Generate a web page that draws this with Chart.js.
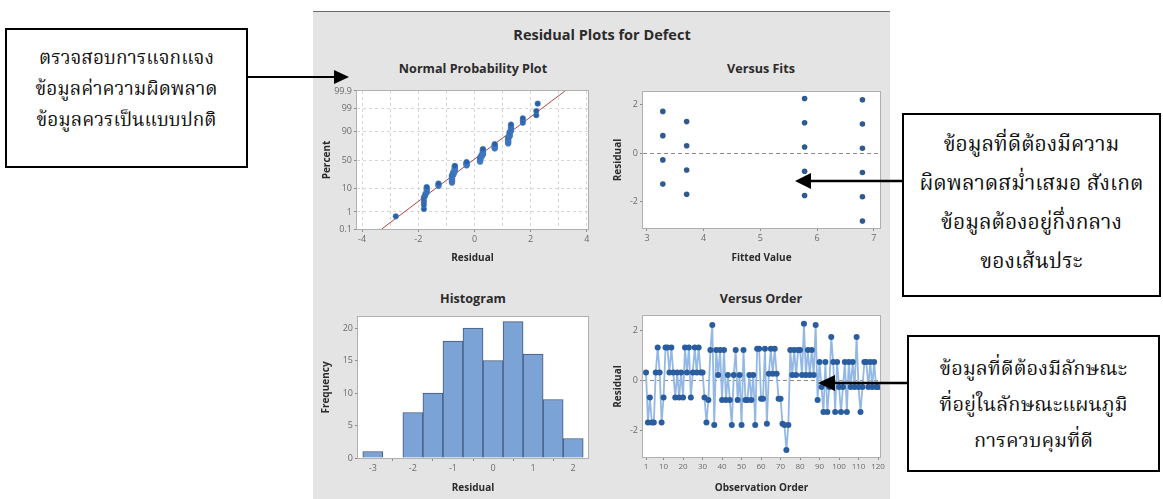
<!DOCTYPE html>
<html>
<head>
<meta charset="utf-8">
<script src="https://cdn.jsdelivr.net/npm/chart.js@4.4.1/dist/chart.umd.min.js"></script>
<style>
  body { margin: 0; width: 1163px; height: 499px; background: #fff; position: relative; overflow: hidden; font-family: "Open Sans", "Noto Sans", sans-serif; }
  #panel { position: absolute; left: 313px; top: 11px; width: 577px; height: 488px; background: #e4e4e4; border-top: 1px solid #6a6a6a; }
  .cv { position: absolute; }
  .ttl { position: absolute; font-weight: bold; color: #2b2b2b; white-space: nowrap; transform: translateX(-50%); }
  .box { position: absolute; box-sizing: border-box; border: 2px solid #000; background: #fff; text-align: center; color: #111;
         font-family: "Noto Serif Thai", "Noto Sans Thai Looped", "Noto Sans Thai", "Loma", "Garuda", serif; white-space: nowrap; }
  svg { position: absolute; left: 0; top: 0; }
</style>
</head>
<body>
<div id="panel"></div>

<div class="ttl" style="left:602px;top:25px;font-size:14.5px;line-height:19px">Residual Plots for Defect</div>
<div class="ttl" style="left:473px;top:60px;font-size:12.6px;line-height:17px">Normal Probability Plot</div>
<div class="ttl" style="left:761px;top:60px;font-size:12.6px;line-height:17px">Versus Fits</div>
<div class="ttl" style="left:473px;top:290px;font-size:12.6px;line-height:17px">Histogram</div>
<div class="ttl" style="left:761px;top:290px;font-size:12.6px;line-height:17px">Versus Order</div>

<canvas id="probChart" class="cv" width="290" height="190" style="left:313px;top:80px"></canvas>
<canvas id="fitsChart" class="cv" width="300" height="190" style="left:595px;top:80px"></canvas>
<canvas id="histChart" class="cv" width="290" height="194" style="left:313px;top:305px"></canvas>
<canvas id="orderChart" class="cv" width="300" height="194" style="left:595px;top:305px"></canvas>

<div class="box" style="left:5px;top:28px;width:243px;height:140px;padding-top:14px;font-size:19px;line-height:31px">
  ตรวจสอบการแจกแจง<br>ข้อมูลค่าความผิดพลาด<br>ข้อมูลควรเป็นแบบปกติ
</div>
<div class="box" style="left:902px;top:113px;width:259px;height:184px;padding-top:11px;font-size:21px;line-height:39px">
  ข้อมูลที่ดีต้องมีความ<br>ผิดพลาดสม่ำเสมอ สังเกต<br>ข้อมูลต้องอยู่กึ่งกลาง<br>ของเส้นประ
</div>
<div class="box" style="left:907px;top:335px;width:253px;height:137px;padding-top:15px;font-size:20px;line-height:36px">
  ข้อมูลที่ดีต้องมีลักษณะ<br>ที่อยู่ในลักษณะแผนภูมิ<br>การควบคุมที่ดี
</div>

<svg width="1163" height="499">
  <line x1="248" y1="77" x2="336" y2="77" stroke="#000" stroke-width="2"/>
  <polygon points="349,77 334,70 334,84" fill="#000"/>
  <line x1="902" y1="181" x2="808" y2="181" stroke="#000" stroke-width="2.5"/>
  <polygon points="795,181 811,173 811,189" fill="#000"/>
  <line x1="907" y1="383" x2="832" y2="383" stroke="#000" stroke-width="2.5"/>
  <polygon points="818,383 835,375 835,391" fill="#000"/>
</svg>

<script>
// ---- data ----
const probTickPct = [0.1, 1, 10, 50, 90, 99, 99.9];
const probTickLabels = ['0.1', '1', '10', '50', '90', '99', '99.9'];
const probXTicks = [-4, -3, -2, -1, 0, 1, 2, 3, 4];
const probClusterResid = [-2.8, -1.8, -1.75, -1.7, -1.28, -0.8, -0.75, -0.7, -0.28, 0.2, 0.25, 0.3, 0.72, 1.2, 1.25, 1.3, 1.72, 2.2, 2.25];
const probClusterPct = [
  [0.58],
  [1.41, 2.24, 3.07, 3.90, 4.73],
  [5.56, 6.40],
  [7.23, 8.06, 8.89, 9.72, 10.55, 11.38],
  [12.21, 13.04, 13.87, 14.70],
  [15.53, 16.36, 17.19, 18.02, 18.85, 19.68, 20.51, 21.35, 22.18, 23.01, 23.84, 24.67],
  [25.50, 26.33, 27.16, 27.99, 28.82, 29.65],
  [30.48, 31.31, 32.14, 32.97, 33.80, 34.63, 35.47, 36.30, 37.13, 37.96, 38.79, 39.62],
  [40.45, 41.28, 42.11, 42.94, 43.77, 44.60, 45.43, 46.26],
  [47.09, 47.92, 48.75, 49.58, 50.42, 51.25, 52.08, 52.91, 53.74, 54.57],
  [55.40, 56.23, 57.06, 57.89, 58.72],
  [59.55, 60.38, 61.21, 62.04, 62.87, 63.70, 64.53, 65.37, 66.20, 67.03, 67.86, 68.69],
  [69.52, 70.35, 71.18, 72.01, 72.84, 73.67, 74.50, 75.33, 76.16],
  [76.99, 77.82, 78.65, 79.49, 80.32, 81.15, 81.98, 82.81, 83.64, 84.47],
  [85.30, 86.13, 86.96, 87.79, 88.62, 89.45],
  [90.28, 91.11, 91.94, 92.77, 93.60, 94.44],
  [95.27, 96.10, 96.93],
  [97.76, 98.59],
  [99.42]
];
const fitLineResid = [-3.3, 3.22];
const fitLinePct = [0.1, 99.9];

const fitsValues = [3.28, 3.28, 3.28, 3.28, 3.7, 3.7, 3.7, 3.7, 5.78, 5.78, 5.78, 5.78, 5.78, 6.8, 6.8, 6.8, 6.8, 6.8, 6.8];
const fitsResid = [1.72, 0.72, -0.28, -1.28, 1.3, 0.3, -0.7, -1.7, 2.25, 1.25, 0.25, -0.75, -1.75, 2.2, 1.2, 0.2, -0.8, -1.8, -2.8];
const fitsXTicks = [3, 4, 5, 6, 7];
const residTicks = [-2, 0, 2];

const histCenters = [-3, -2.5, -2, -1.5, -1, -0.5, 0, 0.5, 1, 1.5, 2];
const histCounts = [1, 0, 7, 10, 18, 20, 15, 21, 16, 9, 3];
const histXTicks = [-3, -2, -1, 0, 1, 2];
const histYTicks = [0, 5, 10, 15, 20];

const orderResid = [
  0.3, -1.7, -0.7, -1.7, -1.7, 0.3, 1.3, 0.3, -1.7, -0.7,
  1.3, 1.3, 0.3, 1.3, 0.3, -0.7, 0.3, -0.7, 0.3, -0.7,
  1.3, 0.3, 1.3, -0.7, 0.3, 1.3, 0.3, 1.3, 0.3, 0.3,
  -0.7, -1.7, -0.8, 1.2, 2.2, -1.8, 1.2, 0.2, 1.2, -0.8,
  1.2, -0.8, 0.2, -0.8, -1.8, 0.2, 1.2, -0.8, 0.2, -1.8,
  1.2, -0.8, -0.8, 0.2, -0.8, 0.2, -1.8, 1.25, 1.25, -0.75,
  -0.75, 1.25, -1.75, 0.25, 1.25, 0.25, 1.25, 0.25, -0.75, -0.75,
  -1.75, -1.8, -2.8, -1.8, 1.2, 0.2, 1.2, 0.2, 1.2, 1.2,
  0.2, 2.25, 0.2, 1.2, 0.2, 1.2, 0.2, 2.2, -0.8, 0.72,
  -0.28, -1.28, 0.72, -1.28, -0.28, 1.72, 0.72, -1.28, 0.72, -0.28,
  -1.28, -0.28, 0.72, -1.28, 0.72, -0.28, 0.72, -0.28, 1.72, -0.28,
  -1.28, -0.28, 0.72, 0.72, -0.28, 0.72, -0.28, 0.72, -0.28, -0.28
];
const orderXTicks = [1, 10, 20, 30, 40, 50, 60, 70, 80, 90, 100, 110, 120];

// ---- helpers ----
const FONT = '"Open Sans", "Noto Sans", sans-serif';
const tickFont = { family: FONT, size: 9 };
const TICK_COLOR = '#6b6b6b';

// inverse normal CDF (Acklam) -> probability axis
function probit(p) {
  const a = [-3.969683028665376e+01, 2.209460984245205e+02, -2.759285104469687e+02, 1.383577518672690e+02, -3.066479806614716e+01, 2.506628277459239e+00];
  const b = [-5.447609879822406e+01, 1.615858368580409e+02, -1.556989798598866e+02, 6.680131188771972e+01, -1.328068155288572e+01];
  const c = [-7.784894002430293e-03, -3.223964580411365e-01, -2.400758277161838e+00, -2.549732539343734e+00, 4.374664141464968e+00, 2.938163982698783e+00];
  const d = [7.784695709041462e-03, 3.224671290700398e-01, 2.445134137142996e+00, 3.754408661907416e+00];
  const pl = 0.02425;
  let q, r;
  if (p < pl) {
    q = Math.sqrt(-2 * Math.log(p));
    return (((((c[0]*q+c[1])*q+c[2])*q+c[3])*q+c[4])*q+c[5]) / ((((d[0]*q+d[1])*q+d[2])*q+d[3])*q+1);
  }
  if (p > 1 - pl) {
    q = Math.sqrt(-2 * Math.log(1 - p));
    return -(((((c[0]*q+c[1])*q+c[2])*q+c[3])*q+c[4])*q+c[5]) / ((((d[0]*q+d[1])*q+d[2])*q+d[3])*q+1);
  }
  q = p - 0.5; r = q * q;
  return (((((a[0]*r+a[1])*r+a[2])*r+a[3])*r+a[4])*r+a[5])*q / (((((b[0]*r+b[1])*r+b[2])*r+b[3])*r+b[4])*r+1);
}

const plotFrame = {
  id: 'plotFrame',
  beforeDraw(chart) {
    const { ctx, chartArea: a } = chart;
    ctx.save();
    ctx.fillStyle = '#fff';
    ctx.fillRect(a.left, a.top, a.width, a.height);
    ctx.restore();
  },
  afterDraw(chart) {
    const { ctx, chartArea: a } = chart;
    ctx.save();
    ctx.strokeStyle = '#b0b0b0';
    ctx.lineWidth = 1;
    ctx.strokeRect(a.left - 0.5, a.top - 0.5, a.width + 1, a.height + 1);
    ctx.restore();
  }
};

function axisTitle(text, padding) {
  return { display: true, text, color: '#2b2b2b', font: { family: FONT, size: 10, weight: 'bold' }, padding };
}

function xAxis(min, max, tickVals, title, height, titlePad, extra) {
  return Object.assign({
    type: 'linear', min, max, offset: false,
    afterBuildTicks: s => { s.ticks = tickVals.map(v => ({ value: v })); },
    afterFit: s => { s.height = height; },
    border: { display: false },
    grid: { color: 'transparent', tickColor: '#8a8a8a', tickLength: 3 },
    ticks: { color: TICK_COLOR, font: tickFont, padding: 2, autoSkip: false, maxRotation: 0 },
    title: axisTitle(title, { top: 0, bottom: titlePad })
  }, extra || {});
}

function yAxis(min, max, tickVals, title, width, titlePad, extra) {
  return Object.assign({
    type: 'linear', min, max,
    afterBuildTicks: s => { s.ticks = tickVals.map(v => ({ value: v })); },
    afterFit: s => { s.width = width; },
    border: { display: false },
    grid: { color: 'transparent', tickColor: '#8a8a8a', tickLength: 3 },
    ticks: { color: TICK_COLOR, font: tickFont, padding: 2, autoSkip: false },
    title: axisTitle(title, { top: titlePad, bottom: 0 })
  }, extra || {});
}

const baseOptions = {
  responsive: false,
  animation: false,
  devicePixelRatio: 1,
  plugins: { legend: { display: false }, tooltip: { enabled: false } }
};

// ---- Normal probability plot ----
const probPoints = [];
probClusterResid.forEach((r, i) => {
  probClusterPct[i].forEach(p => probPoints.push({ x: r, y: probit(p / 100) }));
});

new Chart(document.getElementById('probChart'), {
  type: 'scatter',
  data: {
    datasets: [
      {
        data: fitLineResid.map((r, i) => ({ x: r, y: probit(fitLinePct[i] / 100) })),
        type: 'line', showLine: true, borderColor: '#b3473d', borderWidth: 1, pointRadius: 0, order: 2
      },
      {
        data: probPoints, pointRadius: 2.8, pointBackgroundColor: '#2c60a3',
        pointBorderColor: 'rgba(80,140,215,0.6)', pointBorderWidth: 0.8, order: 1
      }
    ]
  },
  options: Object.assign({}, baseOptions, {
    layout: { padding: { top: 11, right: 15, left: 0, bottom: 0 } },
    scales: {
      x: xAxis(-4.18, 4.04, probXTicks, 'Residual', 41, 6, {
        grid: {
          color: '#d6d6d6', lineWidth: 1, tickLength: 3,
          tickColor: c => (c.tick && c.tick.value % 2 === 0 ? '#8a8a8a' : 'transparent')
        },
        border: { display: false, dash: [3, 3] },
        ticks: { color: TICK_COLOR, font: tickFont, padding: 2, autoSkip: false, maxRotation: 0,
                 callback: v => (v % 2 === 0 ? String(v) : '') }
      }),
      y: yAxis(probit(0.001), probit(0.999), probTickPct.map(p => probit(p / 100)), 'Percent', 44, 8, {
        grid: { color: '#d6d6d6', lineWidth: 1, tickLength: 3, tickColor: '#8a8a8a' },
        border: { display: false, dash: [3, 3] },
        ticks: { color: TICK_COLOR, font: tickFont, padding: 2, autoSkip: false,
                 callback: (v, i) => probTickLabels[i] }
      })
    }
  }),
  plugins: [plotFrame]
});

// ---- Versus Fits ----
const zeroLine = {
  color: c => (c.tick && c.tick.value === 0 ? '#8c8c8c' : 'transparent'),
  tickColor: '#8a8a8a', tickLength: 3, lineWidth: 1
};

new Chart(document.getElementById('fitsChart'), {
  type: 'scatter',
  data: {
    datasets: [{
      data: fitsValues.map((f, i) => ({ x: f, y: fitsResid[i] })),
      pointRadius: 2.8, pointBackgroundColor: '#2f5a8f', pointBorderWidth: 0
    }]
  },
  options: Object.assign({}, baseOptions, {
    layout: { padding: { top: 12, right: 15, left: 0, bottom: 0 } },
    scales: {
      x: xAxis(2.93, 7.11, fitsXTicks, 'Fitted Value', 42, 6),
      y: yAxis(-3.09, 2.52, residTicks, 'Residual', 48, 17, {
        grid: zeroLine, border: { display: false, dash: [4, 3] }
      })
    }
  }),
  plugins: [plotFrame]
});

// ---- Histogram ----
new Chart(document.getElementById('histChart'), {
  type: 'bar',
  data: {
    datasets: [{
      data: histCenters.map((c, i) => ({ x: c, y: histCounts[i] })),
      backgroundColor: '#7ca3d6', borderColor: '#40587a', borderWidth: 1,
      barPercentage: 1, categoryPercentage: 1
    }]
  },
  options: Object.assign({}, baseOptions, {
    layout: { padding: { top: 12, right: 15, left: 0, bottom: 0 } },
    scales: {
      x: xAxis(-3.37, 2.37, histXTicks, 'Residual', 41, 5),
      y: yAxis(0, 21.7, histYTicks, 'Frequency', 45, 7)
    }
  }),
  plugins: [plotFrame]
});

// ---- Versus Order ----
new Chart(document.getElementById('orderChart'), {
  type: 'line',
  data: {
    datasets: [{
      data: orderResid.map((r, i) => ({ x: i + 1, y: r })),
      borderColor: '#93b8e3', borderWidth: 1.8, tension: 0,
      pointRadius: 3, pointBackgroundColor: '#2a5d9f', pointBorderWidth: 0
    }]
  },
  options: Object.assign({}, baseOptions, {
    layout: { padding: { top: 11, right: 15, left: 0, bottom: 0 } },
    scales: {
      x: xAxis(-0.54, 121, orderXTicks, 'Observation Order', 42, 5, {
        ticks: { color: TICK_COLOR, font: { family: FONT, size: 8 }, padding: 2, autoSkip: false, maxRotation: 0 }
      }),
      y: yAxis(-3.08, 2.56, residTicks, 'Residual', 48, 17, {
        grid: zeroLine, border: { display: false, dash: [4, 3] }
      })
    }
  }),
  plugins: [plotFrame]
});
</script>
</body>
</html>
